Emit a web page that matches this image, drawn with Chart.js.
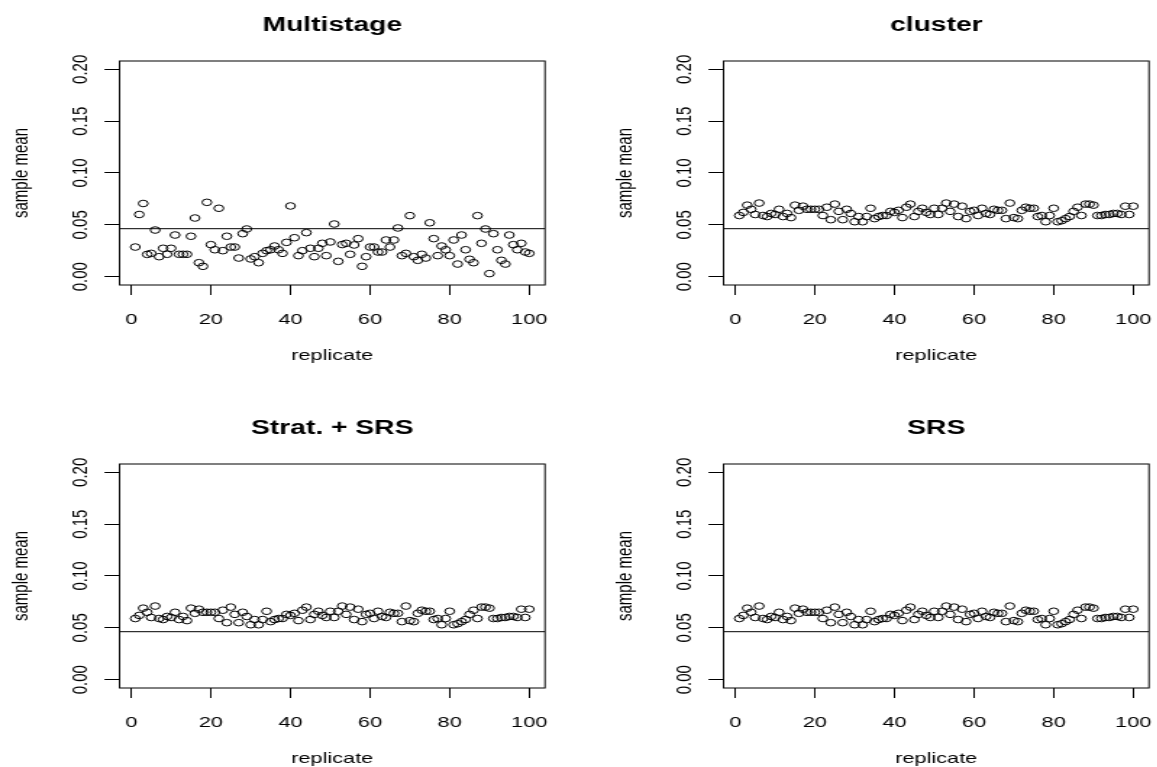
<!DOCTYPE html>
<html>
<head>
<meta charset="utf-8">
<script src="https://cdn.jsdelivr.net/npm/chart.js@4.4.1/dist/chart.umd.min.js"></script>
<style>
  html, body { margin: 0; padding: 0; background: #fff; overflow: hidden; }
  body { width: 1157px; height: 767px; position: relative; }
  .panel { position: absolute; transform-origin: 0 0; }
  .panel canvas { display: block; }
</style>
</head>
<body>
<div class="panel" id="p1"><canvas id="c1"></canvas></div>
<div class="panel" id="p2"><canvas id="c2"></canvas></div>
<div class="panel" id="p3"><canvas id="c3"></canvas></div>
<div class="panel" id="p4"><canvas id="c4"></canvas></div>
<script>
// ---- data ----
const replicate = Array.from({ length: 100 }, (_, i) => i + 1);
const xTicks = [0, 20, 40, 60, 80, 100];
const yTicks = [0, 0.05, 0.10, 0.15, 0.20];
const popMean = 0.0463;

const multistageMeans = [
  0.0286, 0.0600, 0.0706, 0.0215, 0.0225, 0.0450, 0.0193, 0.0274, 0.0216, 0.0274,
  0.0402, 0.0216, 0.0216, 0.0216, 0.0390, 0.0566, 0.0135, 0.0100, 0.0717, 0.0309,
  0.0260, 0.0660, 0.0251, 0.0390, 0.0286, 0.0286, 0.0180, 0.0415, 0.0460, 0.0171,
  0.0193, 0.0135, 0.0225, 0.0251, 0.0260, 0.0296, 0.0260, 0.0225, 0.0331, 0.0682,
  0.0376, 0.0203, 0.0251, 0.0425, 0.0274, 0.0193, 0.0274, 0.0322, 0.0203, 0.0335,
  0.0508, 0.0148, 0.0310, 0.0322, 0.0216, 0.0306, 0.0367, 0.0100, 0.0193, 0.0286,
  0.0286, 0.0238, 0.0238, 0.0354, 0.0286, 0.0354, 0.0470, 0.0203, 0.0225, 0.0589,
  0.0193, 0.0158, 0.0216, 0.0180, 0.0520, 0.0367, 0.0203, 0.0296, 0.0260, 0.0203,
  0.0354, 0.0122, 0.0402, 0.0260, 0.0168, 0.0135, 0.0589, 0.0322, 0.0460, 0.0030,
  0.0415, 0.0260, 0.0158, 0.0122, 0.0402, 0.0309, 0.0260, 0.0322, 0.0238, 0.0225
];

const clusterMeans = [
  0.059, 0.062, 0.069, 0.065, 0.060, 0.071, 0.059, 0.058, 0.061, 0.060,
  0.065, 0.058, 0.061, 0.057, 0.069, 0.064, 0.068, 0.065, 0.065, 0.065,
  0.065, 0.059, 0.067, 0.055, 0.070, 0.063, 0.055, 0.065, 0.061, 0.053,
  0.058, 0.053, 0.058, 0.066, 0.056, 0.058, 0.059, 0.059, 0.063, 0.062,
  0.064, 0.057, 0.067, 0.070, 0.058, 0.063, 0.066, 0.062, 0.060, 0.066,
  0.060, 0.066, 0.071, 0.063, 0.070, 0.058, 0.068, 0.056, 0.063, 0.064,
  0.059, 0.066, 0.061, 0.060, 0.065, 0.064, 0.064, 0.056, 0.071, 0.057,
  0.056, 0.064, 0.067, 0.066, 0.066, 0.058, 0.059, 0.053, 0.059, 0.066,
  0.053, 0.054, 0.056, 0.058, 0.063, 0.067, 0.059, 0.070, 0.070, 0.069,
  0.059, 0.059, 0.060, 0.060, 0.061, 0.061, 0.060, 0.068, 0.060, 0.068
];

// the two stratified designs give the same picture as cluster
const stratSrsMeans = clusterMeans.slice();
const srsMeans = clusterMeans.slice();

// ---- layout (final screen px; reference is stretched sideways) ----
const STRETCH = 1.45;
const PANEL_W = 578, PANEL_H = 370;
const BOX_L = 119.5, BOX_R = 545, BOX_T = 61, BOX_B = 285;
const X_AXIS_H = 80;
const X_MIN = -2.96, X_MAX = 103.96;
const Y_MIN = -0.008, Y_MAX = 0.208;
const FONT = "'Liberation Sans', Arial, sans-serif";
const TITLE_SIZE = 19.5;

const canvasW = Math.round(PANEL_W / STRETCH);
const sx = PANEL_W / canvasW;

const panels = [
  { id: 'c1', wrap: 'p1', title: 'Multistage',   values: multistageMeans, left: 0,   top: 0 },
  { id: 'c2', wrap: 'p2', title: 'cluster',      values: clusterMeans,    left: 604, top: 0 },
  { id: 'c3', wrap: 'p3', title: 'Strat. + SRS', values: stratSrsMeans,   left: 0,   top: 403 },
  { id: 'c4', wrap: 'p4', title: 'SRS',          values: srsMeans,        left: 604, top: 403 },
];

// R-style box round the plot region
const framePlugin = {
  id: 'frame',
  afterDatasetsDraw(chart) {
    const { ctx, chartArea: a } = chart;
    ctx.save();
    ctx.strokeStyle = '#000';
    ctx.lineWidth = 1;
    ctx.strokeRect(a.left, a.top, a.right - a.left, a.bottom - a.top);
    ctx.restore();
  }
};

function makeChart(p) {
  const wrap = document.getElementById(p.wrap);
  wrap.style.left = p.left + 'px';
  wrap.style.top = p.top + 'px';
  wrap.style.transform = `scaleX(${sx})`;

  const canvas = document.getElementById(p.id);
  canvas.width = canvasW;
  canvas.height = PANEL_H;
  canvas.style.width = canvasW + 'px';
  canvas.style.height = PANEL_H + 'px';

  return new Chart(canvas, {
    type: 'scatter',
    data: {
      datasets: [
        {
          type: 'line',
          data: [{ x: X_MIN, y: popMean }, { x: X_MAX, y: popMean }],
          borderColor: '#000',
          borderWidth: 1,
          pointRadius: 0,
        },
        {
          data: replicate.map((r, i) => ({ x: r, y: p.values[i] })),
          pointStyle: 'circle',
          pointRadius: 3.3,
          pointBorderWidth: 1,
          pointBorderColor: '#000',
          pointBackgroundColor: 'rgba(0,0,0,0)',
        },
      ],
    },
    options: {
      responsive: false,
      animation: false,
      devicePixelRatio: 1,
      events: [],
      layout: {
        padding: { top: 0, left: 0, right: (PANEL_W - BOX_R) / sx, bottom: PANEL_H - BOX_B - X_AXIS_H },
      },
      plugins: {
        legend: { display: false },
        tooltip: { enabled: false },
        title: {
          display: true,
          text: p.title,
          color: '#000',
          fullSize: false,
          font: { family: FONT, size: TITLE_SIZE, weight: 'bold', lineHeight: 1.2 },
          padding: { top: 14, bottom: BOX_T - 14 - TITLE_SIZE * 1.2 },
        },
      },
      scales: {
        x: {
          type: 'linear',
          min: X_MIN,
          max: X_MAX,
          afterBuildTicks: s => { s.ticks = xTicks.map(v => ({ value: v })); },
          afterFit: s => { s.height = X_AXIS_H; },
          grid: { drawOnChartArea: false, drawTicks: true, tickLength: 10, color: '#000', lineWidth: 1 },
          border: { display: false },
          ticks: {
            color: '#000',
            padding: 16,
            maxRotation: 0,
            font: { family: FONT, size: 15 },
            callback: v => String(v),
          },
          title: {
            display: true,
            text: 'replicate',
            color: '#000',
            font: { family: FONT, size: 15, lineHeight: 1.2 },
            padding: { top: 0, bottom: 0 },
          },
        },
        y: {
          type: 'linear',
          min: Y_MIN,
          max: Y_MAX,
          afterBuildTicks: s => { s.ticks = yTicks.map(v => ({ value: v })); },
          afterFit: s => { s.width = BOX_L / sx; },
          grid: { drawOnChartArea: false, drawTicks: true, tickLength: 15 / sx, color: '#000', lineWidth: 1 },
          border: { display: false },
          ticks: {
            color: '#000',
            minRotation: 90,
            maxRotation: 90,
            crossAlign: 'center',
            padding: 2,
            font: { family: FONT, size: 15 },
            callback: v => Number(v).toFixed(2),
          },
          title: {
            display: true,
            text: 'sample mean',
            color: '#000',
            font: { family: FONT, size: 15, lineHeight: 1.2 },
            padding: { top: 5.5, bottom: 0 },
          },
        },
      },
    },
    plugins: [framePlugin],
  });
}

panels.forEach(makeChart);
</script>
</body>
</html>
